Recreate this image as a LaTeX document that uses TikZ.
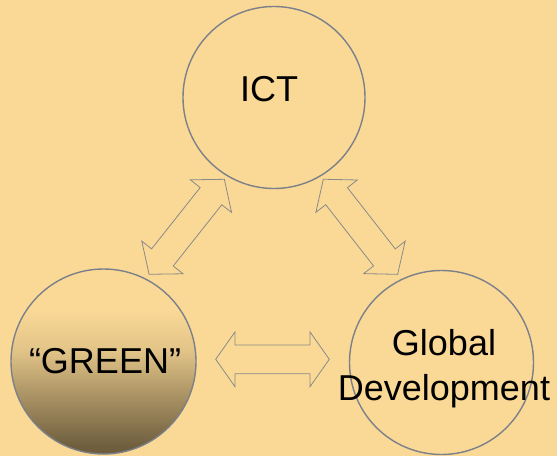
\documentclass[tikz,border=0pt]{standalone}
\usepackage{fontspec}
\setmainfont{Liberation Sans}
\definecolor{bgc}{HTML}{FAD996}
\definecolor{edgec}{HTML}{7C808A}
\definecolor{arrc}{HTML}{8A8A8A}
\definecolor{darkb}{HTML}{6E5E3E}
\definecolor{midb}{HTML}{AF9767}
\definecolor{lightb}{HTML}{E2C488}
\pgfdeclareverticalshading{greenshade}{100bp}{color(0bp)=(darkb); color(27bp)=(darkb); color(42bp)=(midb); color(53bp)=(lightb); color(64bp)=(bgc); color(75bp)=(bgc); color(100bp)=(bgc)}
\tikzset{
  circ/.style={circle, draw=edgec, line width=1.4pt, inner sep=0pt},
  lbl/.style={anchor=base, font=\fontsize{36}{43}\selectfont, text=black, inner sep=0pt},
  arrowline/.style={draw=arrc, line width=0.8pt, line join=miter},
  pics/dblarrow/.style n args={4}{code={
    \draw[arrowline] (-#1/2,0) -- (-#1/2+#2,#3) -- (-#1/2+#2,#4) -- (#1/2-#2,#4) -- (#1/2-#2,#3)
      -- (#1/2,0) -- (#1/2-#2,-#3) -- (#1/2-#2,-#4) -- (-#1/2+#2,-#4) -- (-#1/2+#2,-#3) -- cycle;
  }}
}
\begin{document}
\begin{tikzpicture}[x=1pt,y=1pt]
\fill[bgc] (0,0) rectangle (557,456);
\useasboundingbox (0,0) rectangle (557,456);
% circles
\node[circ, minimum size=182pt] (ict) at (274,358.5) {};
\node[circ, minimum size=185pt, shading=greenshade] (green) at (103.5,94.5) {};
\node[circ, minimum size=184pt] (glob) at (441.5,93.5) {};
% labels
\node[lbl] (ictt) at (269,354) {ICT};
\node[lbl] (greent) at (105,82.7) {“GREEN”};
\node[lbl] (globt1) at (444,101) {Global};
\node[lbl] (globt2) at (444,56) {Development};
% double block arrows
\pic[rotate=51.6] at (186.7,229.2) {dblarrow={121.2}{21.5}{26.3}{13.8}};
\pic[rotate=-52] at (360.5,229.2) {dblarrow={120.7}{21.5}{26.3}{13.8}};
\pic at (272.5,96.7) {dblarrow={113.6}{19.3}{27.4}{14.4}};
\end{tikzpicture}
\end{document}
